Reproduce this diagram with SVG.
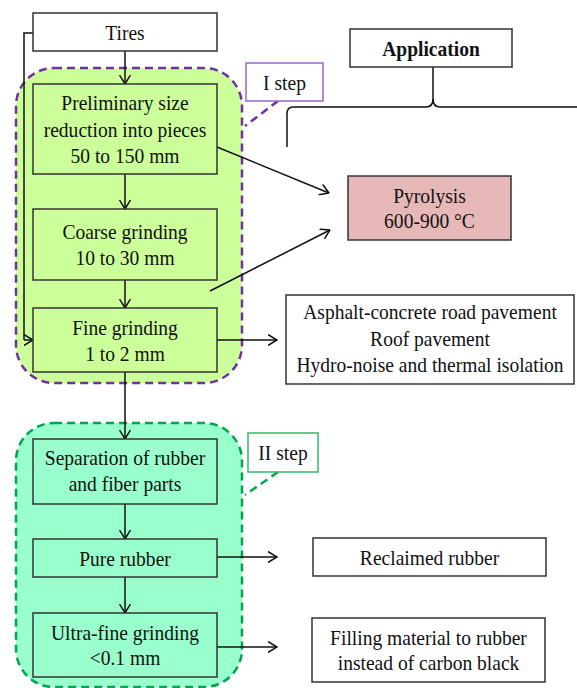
<svg xmlns="http://www.w3.org/2000/svg" width="577" height="688" viewBox="0 0 577 688">
<style>
text{font-family:"Liberation Serif","Times New Roman",serif;font-size:21px;fill:#111;text-anchor:middle;transform-box:fill-box;transform-origin:center;transform:scaleX(0.93)}
.b{font-weight:bold}
.box{stroke:#333;stroke-width:1.5}
.w{fill:#fff}
.g{fill:#ccff99}
.t{fill:#99ffcc}
.ln{fill:none;stroke:#111;stroke-width:1.5}
.ar{fill:none;stroke:#111;stroke-width:1.5;marker-end:url(#ah)}
</style>
<defs>
<marker id="ah" viewBox="0 0 10 12" refX="9.5" refY="6" markerWidth="10" markerHeight="12" markerUnits="userSpaceOnUse" orient="auto">
<path d="M0.5,0.5 L9.5,6 L0.5,11.5" fill="none" stroke="#111" stroke-width="1.5"/>
</marker>
</defs>

<g id="group-step1">
<rect x="16" y="68" width="226" height="315" rx="38" ry="38" fill="#ccff99" stroke="#7030a0" stroke-width="2.5" stroke-dasharray="8 5"/>
</g>
<g id="group-step2">
<rect x="16" y="423" width="226" height="264" rx="38" ry="38" fill="#99ffcc" stroke="#00a550" stroke-width="2.5" stroke-dasharray="8 5"/>
</g>

<g id="connectors">
<path class="ln" d="M33,33 L24,33 L24,340"/>
<path class="ar" d="M24,340 L33,340"/>
<path class="ar" d="M125,51 L125,84"/>
<path class="ar" d="M125,174 L125,209"/>
<path class="ar" d="M125,280 L125,308"/>
<path class="ar" d="M125,372 L125,439"/>
<path class="ar" d="M125,504 L125,539"/>
<path class="ar" d="M125,577 L125,613"/>
<path class="ar" d="M217,147 L329,193"/>
<path class="ar" d="M210,291 L330,230"/>
<path class="ar" d="M217,340 L277,340"/>
<path class="ar" d="M217,557 L277,557"/>
<path class="ar" d="M217,647 L277,647"/>
<path d="M278,101 L245,126" fill="none" stroke="#7030a0" stroke-width="2.5" stroke-dasharray="8 5"/>
<path d="M278,472 L245,495" fill="none" stroke="#00a550" stroke-width="2.5" stroke-dasharray="8 5"/>
<path class="ln" d="M433,67 L433,99 Q433,107 426,107 L293,107 Q287,107 287,114 L287,147"/>
<path class="ln" d="M433,99 Q433,107 440,107 L577,107"/>
</g>

<g id="tires"><rect class="box w" x="33" y="13" width="184" height="38"/><text x="125" y="40">Tires</text></g>
<g id="preliminary"><rect class="box g" x="33" y="84" width="184" height="90"/>
<text x="125" y="110">Preliminary size</text><text x="125" y="137">reduction into pieces</text><text x="125" y="163">50 to 150 mm</text></g>
<g id="coarse"><rect class="box g" x="33" y="209" width="184" height="71"/>
<text x="125" y="239">Coarse grinding</text><text x="125" y="265">10 to 30 mm</text></g>
<g id="fine"><rect class="box g" x="33" y="308" width="184" height="64"/>
<text x="125" y="335">Fine grinding</text><text x="125" y="361">1 to 2 mm</text></g>
<g id="separation"><rect class="box t" x="33" y="439" width="184" height="65"/>
<text x="125" y="465">Separation of rubber</text><text x="125" y="491">and fiber parts</text></g>
<g id="pure"><rect class="box t" x="33" y="539" width="184" height="38"/>
<text x="125" y="566">Pure rubber</text></g>
<g id="ultra"><rect class="box t" x="33" y="613" width="184" height="64"/>
<text x="125" y="640">Ultra-fine grinding</text><text x="125" y="665">&lt;0.1 mm</text></g>

<g id="step1-label"><rect x="246" y="63" width="77" height="38" fill="#fff" stroke="#9966cc" stroke-width="1.5"/><text x="284.5" y="90">I step</text></g>
<g id="step2-label"><rect x="248" y="433" width="70" height="39" fill="#fff" stroke="#33bb66" stroke-width="1.5"/><text x="283" y="460">II step</text></g>

<g id="application"><rect class="box w" x="350" y="29" width="162" height="38"/><text class="b" x="431" y="56">Application</text></g>
<g id="pyrolysis"><rect class="box" x="348" y="176" width="163" height="64" fill="#e6b8b7"/>
<text x="429.5" y="203">Pyrolysis</text><text x="429.5" y="228">600-900 °C</text></g>
<g id="asphalt"><rect class="box w" x="286" y="295" width="288" height="89"/>
<text x="430" y="319">Asphalt-concrete road pavement</text><text x="430" y="346">Roof pavement</text><text x="430" y="372">Hydro-noise and thermal isolation</text></g>
<g id="reclaimed"><rect class="box w" x="313" y="538" width="233" height="38"/><text x="429.5" y="565">Reclaimed rubber</text></g>
<g id="filling"><rect class="box w" x="312" y="618" width="233" height="64"/>
<text x="428.5" y="645">Filling material to rubber</text><text x="428.5" y="670">instead of carbon black</text></g>
</svg>
